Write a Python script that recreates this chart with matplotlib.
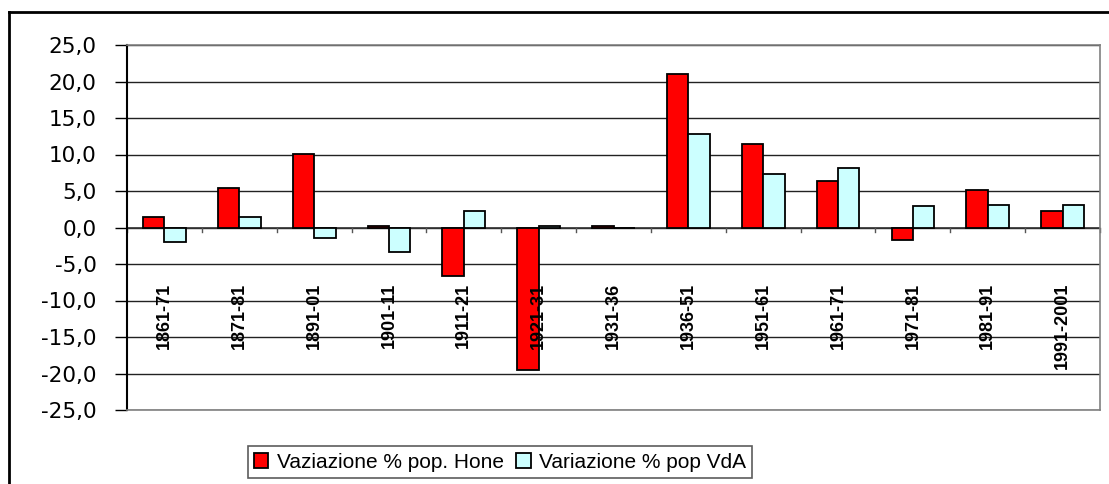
import matplotlib
matplotlib.use('Agg')
import matplotlib.pyplot as plt
from matplotlib.lines import Line2D
from matplotlib.ticker import FuncFormatter
import numpy as np

# data
periods = ['1861-71', '1871-81', '1891-01', '1901-11', '1911-21', '1921-31', '1931-36',
           '1936-51', '1951-61', '1961-71', '1971-81', '1981-91', '1991-2001']
var_hone = [1.5, 5.4, 10.1, 0.2, -6.6, -19.5, 0.2, 21.0, 11.5, 6.4, -1.7, 5.1, 2.2]
var_vda = [-2.0, 1.5, -1.5, -3.3, 2.2, 0.2, 0.0, 12.8, 7.3, 8.2, 2.9, 3.1, 3.1]
yticks = [-25, -20, -15, -10, -5, 0, 5, 10, 15, 20, 25]

W, H = 1109, 484
fig = plt.figure(figsize=(W / 100, H / 100), dpi=100)
ax = fig.add_axes([127 / W, 1 - 410 / H, (1100 - 127) / W, (410 - 45) / H])

x = np.arange(len(periods))
w = 1 / 3.5
b1 = ax.bar(x - w / 2, var_hone, w, color='#ff0000', edgecolor='black', linewidth=1.3,
            label='Vaziazione % pop. Hone', zorder=3)
b2 = ax.bar(x + w / 2, var_vda, w, color='#ccffff', edgecolor='black', linewidth=1.3,
            label='Variazione % pop VdA', zorder=3)

ax.set_xlim(-0.5, len(periods) - 0.5)
ax.set_ylim(-25, 25)
ax.set_yticks(yticks)
ax.yaxis.set_major_formatter(FuncFormatter(lambda v, p: '{:.1f}'.format(v).replace('.', ',')))
ax.tick_params(axis='y', length=9, width=1, pad=13, labelsize=15.5, colors='black')
for t in ax.get_yticklabels():
    t.set_fontfamily('DejaVu Sans')
ax.set_xticks([])
ax.grid(axis='y', color='#222222', linewidth=1, zorder=0)

for s in ['top', 'right', 'bottom']:
    ax.spines[s].set_color('#808080')
    ax.spines[s].set_linewidth(1.2)
ax.spines['left'].set_linewidth(1.5)

# zero line with category tick marks
ax.axhline(0, color='#333333', linewidth=1.2, zorder=2)
for b in np.arange(len(periods) + 1) - 0.5:
    ax.plot([b, b], [0, -0.6], color='#555555', linewidth=1, zorder=2, clip_on=False)

# category labels inside the plot
for xi, lab in zip(x, periods):
    ax.text(xi, -7.6, lab, rotation=90, ha='center', va='top', fontsize=13,
            fontweight='bold', family='Liberation Sans', zorder=4)

leg = fig.legend(handles=[b1, b2], loc='center', ncol=2,
                 bbox_to_anchor=(500 / W, 1 - 462 / H), frameon=True, fancybox=False,
                 prop={'family': 'Liberation Sans', 'size': 15},
                 handlelength=0.7, handleheight=0.7, handletextpad=0.4,
                 columnspacing=0.6, borderpad=0.3, borderaxespad=0)
leg.get_frame().set_edgecolor('#333333')
leg.get_frame().set_linewidth(1.2)

# outer chart frame (only top and left visible)
fig.add_artist(Line2D([9 / W, 9 / W], [0, 1 - 12 / H], transform=fig.transFigure,
                      color='black', linewidth=2))
fig.add_artist(Line2D([9 / W, 1], [1 - 12 / H, 1 - 12 / H], transform=fig.transFigure,
                      color='black', linewidth=2))

fig.savefig('out.png', dpi=100)
